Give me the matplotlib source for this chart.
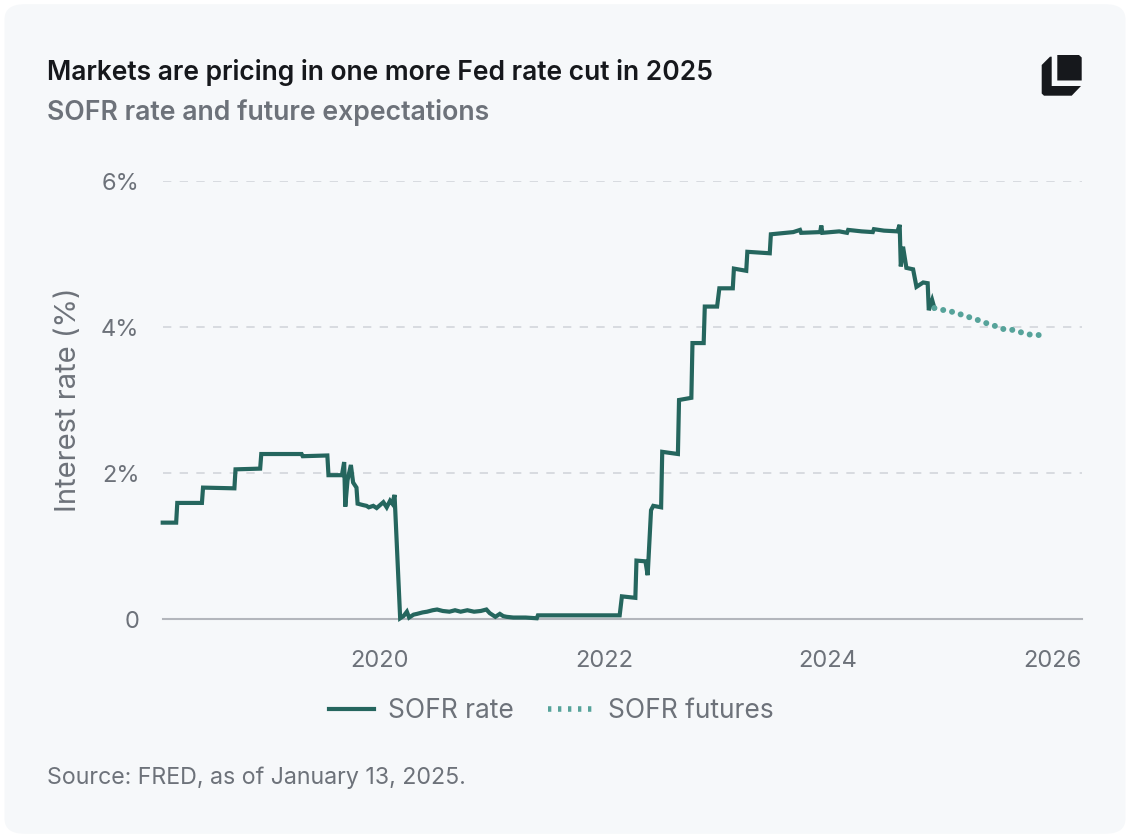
import matplotlib
matplotlib.use("Agg")
import matplotlib.pyplot as plt
from matplotlib.patches import FancyBboxPatch, Polygon
from matplotlib.lines import Line2D

plt.rcParams['font.family'] = ['Inter', 'DejaVu Sans']

# SOFR rate (%), decimal years
sofr_year = [2018.06, 2018.18, 2018.19, 2018.41, 2018.42, 2018.70, 2018.71, 2018.93, 2018.94,
             2019.30, 2019.31, 2019.53, 2019.54, 2019.66, 2019.68, 2019.69, 2019.71, 2019.74,
             2019.76, 2019.79, 2019.80, 2019.85, 2019.88, 2019.90, 2019.94, 2019.97, 2020.00,
             2020.03, 2020.06, 2020.09, 2020.11, 2020.13, 2020.18, 2020.21, 2020.24, 2020.26,
             2020.30, 2020.33, 2020.38, 2020.42, 2020.47, 2020.51, 2020.56, 2020.62, 2020.67,
             2020.72, 2020.78, 2020.84, 2020.90, 2020.95, 2020.98, 2021.03, 2021.07, 2021.10,
             2021.13, 2021.19, 2021.30, 2021.40, 2021.41, 2021.90, 2021.91, 2022.14, 2022.16,
             2022.28, 2022.29, 2022.37, 2022.39, 2022.42, 2022.44, 2022.51, 2022.52, 2022.66,
             2022.67, 2022.78, 2022.79, 2022.89, 2022.90, 2023.01, 2023.03, 2023.15, 2023.16,
             2023.27, 2023.28, 2023.48, 2023.49, 2023.69, 2023.75, 2023.76, 2023.93, 2023.94,
             2023.95, 2024.10, 2024.17, 2024.18, 2024.30, 2024.40, 2024.41, 2024.50, 2024.62,
             2024.64, 2024.65, 2024.67, 2024.70, 2024.76, 2024.79, 2024.82, 2024.85, 2024.89,
             2024.90, 2024.93, 2024.95]
sofr_rate = [1.32, 1.32, 1.59, 1.59, 1.80, 1.79, 2.05, 2.06, 2.26,
             2.26, 2.23, 2.24, 1.97, 1.97, 2.15, 1.54, 1.90, 2.11,
             1.87, 1.80, 1.58, 1.56, 1.55, 1.53, 1.55, 1.52, 1.56,
             1.60, 1.53, 1.62, 1.58, 1.70, 0.01, 0.04, 0.10, 0.02,
             0.06, 0.07, 0.09, 0.10, 0.12, 0.13, 0.11, 0.10, 0.12,
             0.10, 0.12, 0.10, 0.11, 0.13, 0.08, 0.03, 0.07, 0.04,
             0.03, 0.02, 0.02, 0.01, 0.05, 0.05, 0.05, 0.05, 0.31,
             0.29, 0.80, 0.79, 0.60, 1.49, 1.55, 1.53, 2.29, 2.26,
             3.00, 3.03, 3.78, 3.78, 4.28, 4.28, 4.53, 4.53, 4.80,
             4.77, 5.03, 5.01, 5.27, 5.30, 5.33, 5.29, 5.30, 5.39,
             5.29, 5.31, 5.29, 5.33, 5.31, 5.30, 5.34, 5.32, 5.31,
             5.40, 4.83, 5.10, 4.81, 4.79, 4.55, 4.58, 4.61, 4.60,
             4.23, 4.37, 4.26]

# SOFR futures implied path
fut_year = [2024.95, 2025.00, 2025.08, 2025.15, 2025.25, 2025.33, 2025.40, 2025.50,
            2025.57, 2025.65, 2025.74, 2025.82, 2025.92]
fut_rate = [4.26, 4.24, 4.22, 4.19, 4.14, 4.10, 4.06, 4.01, 3.97, 3.96, 3.92, 3.89, 3.89]

x_ticks = [2020, 2022, 2024, 2026]
y_ticks = [0, 2, 4, 6]
y_labels = ['0', '2%', '4%', '6%']

W, H = 1130, 838
rate_col = '#25665e'
fut_col = '#56a39a'
grey = '#6d727a'

def fx(px):
    return px / W

def fy(py):
    return 1 - py / H

fig = plt.figure(figsize=(W / 100, H / 100), dpi=100)
fig.patch.set_facecolor('white')
card = FancyBboxPatch((0.004, 0.005), 0.992, 0.99, boxstyle="round,pad=0,rounding_size=0.018",
                      transform=fig.transFigure, facecolor='#f6f8fa', edgecolor='none', zorder=-5)
fig.add_artist(card)

ax = fig.add_axes([fx(163), fy(619), (1082 - 163) / W, (619 - 181) / H])
ax.set_facecolor('none')

ax.plot(sofr_year, sofr_rate, color=rate_col, lw=3, solid_joinstyle='miter', zorder=3, clip_on=False)
ax.plot(fut_year, fut_rate, color=fut_col, lw=4.3, linestyle=(0, (0.01, 1.5)),
        dash_capstyle='round', zorder=3, clip_on=False)

ax.set_xlim(2018.0625, 2026.268)
ax.set_ylim(0, 6)
ax.set_xticks(x_ticks)
ax.set_xticklabels([str(t) for t in x_ticks])
ax.set_yticks(y_ticks)
ax.set_yticklabels(y_labels)
ax.tick_params(axis='both', length=0, labelsize=17, labelcolor=grey)
ax.tick_params(axis='x', pad=22)
ax.tick_params(axis='y', pad=17)

for s in ['top', 'right', 'left']:
    ax.spines[s].set_visible(False)
ax.spines['bottom'].set_color('#b3b6bc')
ax.spines['bottom'].set_linewidth(1.5)
ax.grid(axis='y', color='#d3d6db', lw=1.2, linestyle=(0, (5, 5)))
ax.set_axisbelow(True)

ax.set_ylabel('Interest rate (%)', fontsize=21, color=grey, labelpad=14)

fig.text(fx(47), fy(80), 'Markets are pricing in one more Fed rate cut in 2025', fontsize=19,
         fontweight='semibold', color='#16181c', va='baseline')
fig.text(fx(47), fy(120), 'SOFR rate and future expectations', fontsize=19.2,
         fontweight='semibold', color=grey, va='baseline')
fig.text(fx(47), fy(784), 'Source: FRED, as of January 13, 2025.', fontsize=16.7,
         color=grey, va='baseline')

handles = [Line2D([], [], color=rate_col, lw=3),
           Line2D([], [], color=fut_col, lw=4, linestyle=(0, (0.6, 1.2)))]
fig.legend(handles, ['SOFR rate', 'SOFR futures'], loc='center', ncol=2, frameon=False,
           bbox_to_anchor=(fx(551), fy(711)), fontsize=19, labelcolor=grey,
           handlelength=1.7, handletextpad=0.55, columnspacing=1.3)

# logo
logo_l = [(1041.7, 65), (1050, 56.7), (1051.7, 56.7), (1051.7, 86), (1081, 86),
          (1071.7, 95.7), (1044, 95.7), (1041.7, 93.5)]
logo_b = [(1057.3, 55), (1079, 55), (1081.7, 57.5), (1081.7, 80.5), (1057.3, 80.5)]
for pts in [logo_l, logo_b]:
    fig.add_artist(Polygon([(fx(a), fy(b)) for a, b in pts], closed=True,
                           transform=fig.transFigure, facecolor='#16181c', edgecolor='none'))

fig.savefig('out.png', dpi=100, facecolor=fig.get_facecolor())
